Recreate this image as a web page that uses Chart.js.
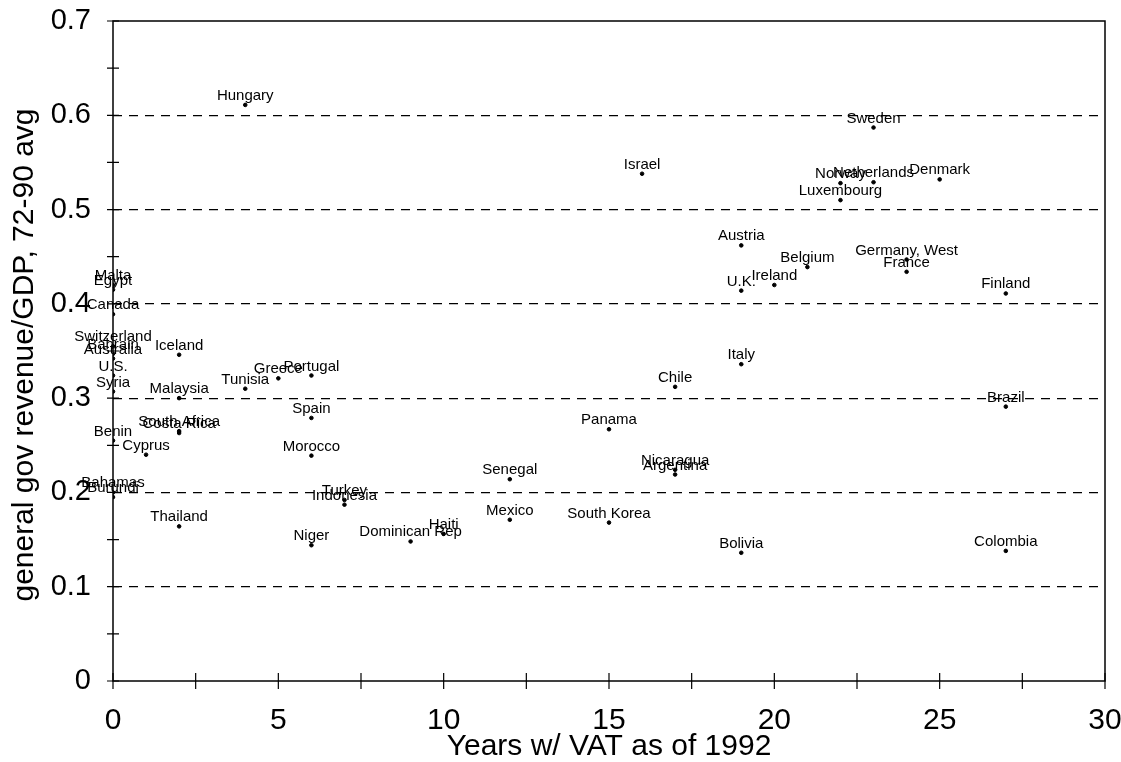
<!DOCTYPE html>
<html>
<head>
<meta charset="utf-8">
<script src="https://cdn.jsdelivr.net/npm/chart.js@4.4.1/dist/chart.umd.min.js"></script>
<style>
  body { margin: 0; background: #fff; }
  #wrap { width: 1121px; height: 762px; position: relative; }
</style>
</head>
<body>
<div id="wrap"><canvas id="vat-chart"></canvas></div>
<script>
const countries = [
    'Hungary', 'Israel', 'Sweden', 'Netherlands', 'Norway', 'Luxembourg', 'Denmark',
    'Austria', 'Belgium', 'Germany, West', 'France', 'Ireland', 'U.K.', 'Finland',
    'Italy', 'Chile', 'Brazil', 'Colombia', 'Bolivia', 'Panama', 'Nicaragua', 'Argentina',
    'Senegal', 'Mexico', 'South Korea', 'Haiti', 'Dominican Rep', 'Turkey', 'Indonesia',
    'Niger', 'Morocco', 'Spain', 'Portugal', 'Greece', 'Tunisia', 'Iceland', 'Malaysia',
    'South Africa', 'Costa Rica', 'Cyprus', 'Thailand',
    'Malta', 'Egypt', 'Canada', 'Switzerland', 'Bahrain', 'Australia', 'U.S.', 'Syria',
    'Benin', 'Bahamas', 'Burundi'
];
const vatYears = [
    4, 16, 23, 23, 22, 22, 25,
    19, 21, 24, 24, 20, 19, 27,
    19, 17, 27, 27, 19, 15, 17, 17,
    12, 12, 15, 10, 9, 7, 7,
    6, 6, 6, 6, 5, 4, 2, 2,
    2, 2, 1, 2,
    0, 0, 0, 0, 0, 0, 0, 0,
    0, 0, 0
];
const revenueShare = [
    0.611, 0.538, 0.587, 0.529, 0.528, 0.510, 0.532,
    0.462, 0.439, 0.447, 0.434, 0.420, 0.414, 0.411,
    0.336, 0.312, 0.291, 0.138, 0.136, 0.267, 0.224, 0.219,
    0.214, 0.171, 0.168, 0.156, 0.148, 0.192, 0.187,
    0.144, 0.239, 0.279, 0.324, 0.321, 0.310, 0.346, 0.300,
    0.265, 0.263, 0.240, 0.164,
    0.420, 0.415, 0.389, 0.355, 0.347, 0.342, 0.324, 0.307,
    0.255, 0.200, 0.195
];

const xTicks = [0, 5, 10, 15, 20, 25, 30];
const yTicks = [0, 0.1, 0.2, 0.3, 0.4, 0.5, 0.6, 0.7];

const points = countries.map((name, i) => ({ x: vatYears[i], y: revenueShare[i] }));

// names above every dot, frame box, crossing tick marks and axis titles
const decorations = {
    id: 'decorations',
    afterDatasetsDraw(chart) {
        const ctx = chart.ctx;
        const area = chart.chartArea;
        const xs = chart.scales.x;
        const ys = chart.scales.y;

        ctx.save();
        ctx.strokeStyle = '#000';
        ctx.lineWidth = 1.5;
        ctx.strokeRect(area.left, area.top, area.right - area.left, area.bottom - area.top);

        ctx.lineWidth = 1.2;
        ctx.beginPath();
        for (let v = 0; v <= 30; v += 2.5) {
            const px = xs.getPixelForValue(v);
            ctx.moveTo(px, area.bottom - 8);
            ctx.lineTo(px, area.bottom + 8);
        }
        for (let k = 0; k <= 14; k++) {
            const py = ys.getPixelForValue(k * 0.05);
            ctx.moveTo(area.left - 6, py);
            ctx.lineTo(area.left + 6, py);
        }
        ctx.stroke();

        ctx.fillStyle = '#000';
        ctx.font = '15px "Liberation Sans", Arial, sans-serif';
        ctx.textAlign = 'center';
        ctx.textBaseline = 'alphabetic';
        const meta = chart.getDatasetMeta(0);
        meta.data.forEach((pt, i) => {
            ctx.fillText(countries[i], pt.x, pt.y - 5);
        });

        ctx.font = '30px "Liberation Sans", Arial, sans-serif';
        ctx.fillText('Years w/ VAT as of 1992', (area.left + area.right) / 2, 755);

        ctx.translate(33, 355);
        ctx.rotate(-Math.PI / 2);
        ctx.fillText('general gov revenue/GDP, 72-90 avg', 0, 0);
        ctx.restore();
    }
};

const context = document.getElementById('vat-chart').getContext('2d');

const chartVat = new Chart(context, {
    type: 'scatter',
    data: {
        datasets: [{
            data: points,
            backgroundColor: '#000',
            borderColor: '#000',
            pointRadius: 1.8,
            pointHoverRadius: 1.8
        }]
    },
    options: {
        responsive: true,
        maintainAspectRatio: false,
        animation: false,
        layout: {
            padding: { top: 21, right: 16, bottom: 0, left: 0 }
        },
        plugins: {
            legend: { display: false },
            tooltip: { enabled: false }
        },
        scales: {
            x: {
                type: 'linear',
                min: 0,
                max: 30,
                afterBuildTicks: (scale) => {
                    scale.ticks = xTicks.map(v => ({ value: v }));
                },
                afterFit: (scale) => {
                    scale.height = 81;
                    scale.paddingLeft = 0;
                    scale.paddingRight = 0;
                },
                grid: { display: false },
                border: { display: false },
                ticks: {
                    color: '#000',
                    padding: 14,
                    maxRotation: 0,
                    font: { family: '"Liberation Sans", Arial, sans-serif', size: 30 }
                }
            },
            y: {
                min: 0,
                max: 0.7,
                afterBuildTicks: (scale) => {
                    scale.ticks = yTicks.map(v => ({ value: v }));
                },
                afterFit: (scale) => {
                    scale.width = 113;
                    scale.paddingTop = 0;
                    scale.paddingBottom = 0;
                },
                grid: {
                    drawTicks: false,
                    lineWidth: 1.2,
                    color: (c) => (c.tick && c.tick.value > 0.05 && c.tick.value < 0.65) ? '#000' : 'rgba(0,0,0,0)'
                },
                border: { display: false, dash: [9, 7] },
                ticks: {
                    color: '#000',
                    padding: 22,
                    callback: (v) => v === 0 ? '0' : Number(v).toFixed(1),
                    font: { family: '"Liberation Sans", Arial, sans-serif', size: 29 }
                }
            }
        }
    },
    plugins: [decorations]
});
</script>
</body>
</html>
